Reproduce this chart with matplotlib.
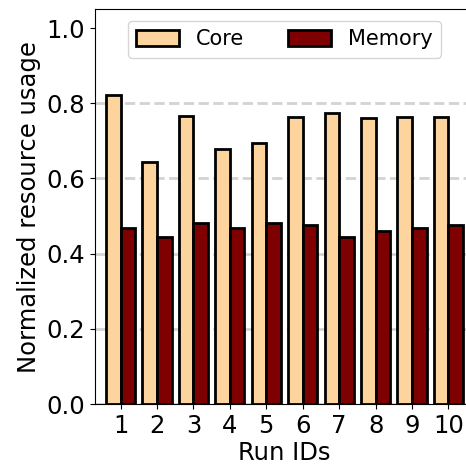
import numpy as np
import matplotlib
matplotlib.use("Agg")
import matplotlib.pyplot as plt

run_ids = [1, 2, 3, 4, 5, 6, 7, 8, 9, 10]
core = [0.821, 0.643, 0.766, 0.679, 0.693, 0.764, 0.773, 0.761, 0.763, 0.763]
memory = [0.469, 0.444, 0.482, 0.469, 0.482, 0.475, 0.444, 0.460, 0.469, 0.475]

W, H = 466, 468
fig = plt.figure(figsize=(W / 100, H / 100), dpi=100)
# axes runs a bit past the right edge, like the cropped original
x0, x1 = 95 / W, 474 / W
y0, y1 = (H - 404) / H, (H - 9.3) / H
ax = fig.add_axes([x0, y0, x1 - x0, y1 - y0])

x = np.array(run_ids)
width = 0.4
ax.bar(x, core, width=-width, align="edge", color="#fdd49e",
       edgecolor="black", linewidth=2, label="Core", zorder=3)
ax.bar(x, memory, width=width, align="edge", color="#7f0000",
       edgecolor="black", linewidth=2, label="Memory", zorder=3)

ax.set_xlim(0.3, 10.7)
ax.set_ylim(0, 1.05)
ax.set_xticks(x)
ax.set_yticks([0.0, 0.2, 0.4, 0.6, 0.8, 1.0])
ax.set_yticklabels(["0.0", "0.2", "0.4", "0.6", "0.8", "1.0"])
ax.yaxis.grid(True, linestyle="--", color="#d3d3d3", linewidth=2, zorder=0)
ax.get_ygridlines()[-1].set_visible(False)
ax.set_axisbelow(True)
ax.tick_params(labelsize=17.5)

ax.set_xlabel("Run IDs", fontsize=17.5, labelpad=2)
ax.set_ylabel("Normalized resource usage", fontsize=17.5)

ax.legend(loc="upper center", bbox_to_anchor=(0.5, 1.0), ncol=2,
          fontsize=15, handlelength=2.07, handleheight=0.8, handletextpad=0.8,
          columnspacing=2.1, borderaxespad=0.56)

fig.savefig("out.png", dpi=100)
